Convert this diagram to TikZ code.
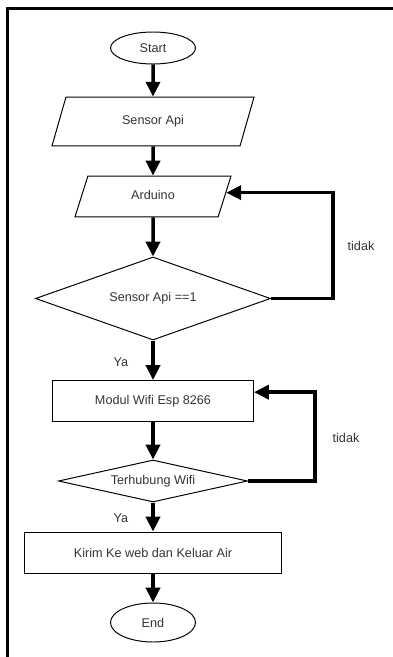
\documentclass[tikz,border=0pt]{standalone}
\usepackage{fontspec}
\setmainfont{Liberation Sans}
\usetikzlibrary{shapes.geometric, arrows.meta}

\tikzset{
  box/.style={draw, line width=0.7pt, text=black!80, font=\fontsize{9}{11}\selectfont, inner sep=0pt},
  terminal/.style={box, ellipse, minimum width=2.125cm},
  io/.style={box, trapezium, trapezium stretches body, text height=6.5pt, text depth=2pt, trapezium left angle=#1, trapezium right angle=180-#1},
  process/.style={box, rectangle, minimum height=1.025cm},
  decision/.style={box, diamond},
  flow/.style={line width=0.0875cm, -{Triangle[width=0.35cm, length=0.37cm]}},
  note/.style={text=black!80, font=\fontsize{9}{11}\selectfont, inner sep=0pt}
}

\begin{document}
\begin{tikzpicture}[x=0.025cm, y=-0.025cm]
\useasboundingbox (0, 0) rectangle (393, 657);
\draw[line width=0.075cm] (6, 8.5) -- (393, 8.5);
\draw[line width=0.075cm] (7.5, 7) -- (7.5, 657);

\node[terminal, minimum height=0.8cm] (start) at (153, 48) {Start};
\node[io=74, inner ysep=13.1pt, minimum width=5.05cm] (sensor) at (153, 121.5) {Sensor Api};
\node[io=72.5, inner ysep=10.3pt, minimum width=3.9cm] (arduino) at (153, 196.5) {Arduino};
\node[decision, aspect=2.83, minimum width=5.875cm, minimum height=2.075cm] (cekapi) at (153, 298.5) {Sensor Api ==1};
\node[process, minimum width=5.025cm] (modul) at (153, 401) {Modul Wifi Esp 8266};
\node[decision, aspect=4.5, minimum width=4.725cm, minimum height=1.05cm] (cekwifi) at (153, 481) {Terhubung Wifi};
\node[process, minimum width=6.425cm] (kirim) at (153, 552.5) {Kirim Ke web dan Keluar Air};
\node[terminal, minimum height=0.975cm] (end) at (153, 622.5) {End};

\coordinate (balik1) at (333, 298.5);
\coordinate (balik2) at (315, 481);

\draw[flow] (start) -- (sensor);
\draw[flow] (sensor) -- (arduino);
\draw[flow] (arduino) -- (cekapi);
\draw[flow] (cekapi) -- (modul);
\draw[flow] (modul) -- (cekwifi);
\draw[flow] (cekwifi) -- (kirim);
\draw[flow] (kirim) -- (end);

\draw[flow] (cekapi.east) -- (balik1) |- (arduino.3);
\draw[flow] (cekwifi.east) -- (balik2) |- (modul.5);

\node[note] (tidak1) at (361, 246) {tidak};
\node[note] (tidak2) at (346, 438) {tidak};
\node[note] (ya1) at (121, 362) {Ya};
\node[note] (ya2) at (121, 518) {Ya};
\end{tikzpicture}
\end{document}
